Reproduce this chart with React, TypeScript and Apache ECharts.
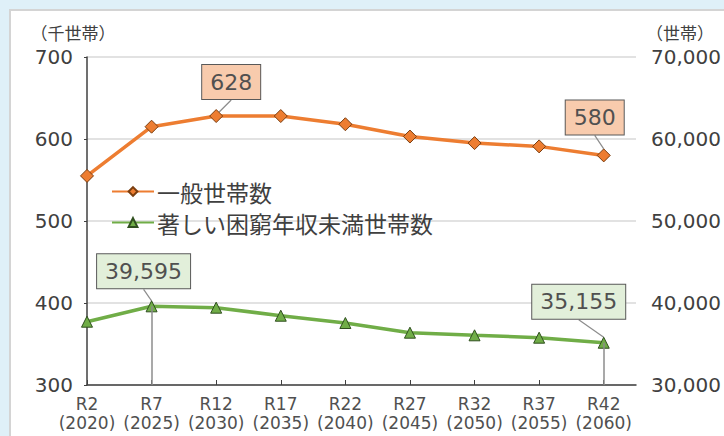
import React, { useEffect, useRef } from "react";
import * as echarts from "echarts";

const categories = [
  "R2\n(2020)", "R7\n(2025)", "R12\n(2030)", "R17\n(2035)", "R22\n(2040)",
  "R27\n(2045)", "R32\n(2050)", "R37\n(2055)", "R42\n(2060)",
];
const generalHouseholds = [555, 615, 628, 628, 618, 603, 595, 591, 580];
const poorHouseholds = [37720, 39595, 39430, 38450, 37560, 36380, 36060, 35770, 35155];
const generalLabelIdx = [2, 8];
const poorLabelIdx = [1, 8];
const leftAxis = { min: 300, max: 700, interval: 100 };
const rightAxis = { min: 30000, max: 70000, interval: 10000 };
const seriesNames = ["一般世帯数", "著しい困窮年収未満世帯数"];
const leftUnit = "（千世帯）";
const rightUnit = "（世帯）";

const NUM_FONT = "DejaVu Sans";
const JP_FONT = "Noto Sans CJK JP";

const labelOffsets: Record<string, [number, number]> = {
  "0-2": [15, -34],
  "0-8": [-9, -38],
  "1-1": [-8, -35],
  "1-8": [-25, -41],
};

export default function App() {
  const ref = useRef<HTMLDivElement>(null);
  useEffect(() => {
    if (!ref.current) return;
    const chart = echarts.init(ref.current, undefined, { renderer: "svg" });
    const idx = categories.map((_, i) => i);

    const mkData = (vals: number[], labelIdx: number[], bg: string) =>
      vals.map((v, i) =>
        labelIdx.includes(i)
          ? {
              value: [i, v],
              label: {
                show: true,
                position: "inside",
                formatter: (p: any) => Number(p.value[1]).toLocaleString("en-US"),
                backgroundColor: bg,
                borderColor: "#595959",
                borderWidth: 1,
                padding: [4, 8],
                fontSize: 22,
                lineHeight: 26,
                color: "#505050",
                fontFamily: NUM_FONT,
              },
              labelLine: { show: true, lineStyle: { color: "#8c8c8c", width: 1.2 } },
            }
          : { value: [i, v] }
      );

    chart.setOption({
      animation: false,
      backgroundColor: "#dff0f8",
      graphic: [
        {
          type: "rect",
          shape: { x: 10, y: 10, width: 730, height: 440 },
          style: { fill: "#ffffff", stroke: "#d4d4d4", lineWidth: 2 },
          z: -10,
        },
        {
          type: "text",
          x: 73,
          y: 32,
          style: {
            text: leftUnit,
            fontSize: 17,
            fontFamily: JP_FONT,
            fill: "#404040",
            align: "center",
            verticalAlign: "middle",
          },
        },
        {
          type: "text",
          x: 680,
          y: 32,
          style: {
            text: rightUnit,
            fontSize: 17,
            fontFamily: JP_FONT,
            fill: "#404040",
            align: "center",
            verticalAlign: "middle",
          },
        },
      ],
      grid: { left: 87, right: 87, top: 57, bottom: 51, containLabel: false },
      legend: {
        orient: "vertical",
        left: 106,
        top: 173,
        itemWidth: 42,
        itemHeight: 11,
        itemGap: 4,
        data: seriesNames,
        textStyle: {
          fontSize: 23,
          lineHeight: 27,
          fontFamily: JP_FONT,
          color: "#404040",
          padding: [0, 0, 0, -2],
        },
      },
      xAxis: {
        type: "value",
        min: 0,
        max: 8.5,
        interval: 1,
        axisLine: { show: true, onZero: false, lineStyle: { color: "#404040", width: 1.5 } },
        axisTick: {
          show: true,
          inside: true,
          length: 5,
          customValues: idx,
          lineStyle: { color: "#404040", width: 1 },
        },
        splitLine: { show: false },
        axisLabel: {
          customValues: idx,
          formatter: (v: number) => categories[Math.round(v)] ?? "",
          fontSize: 17,
          lineHeight: 19,
          margin: 9,
          color: "#505050",
          fontFamily: NUM_FONT,
        },
      },
      yAxis: [
        {
          type: "value",
          ...leftAxis,
          axisLine: { show: true, lineStyle: { color: "#404040", width: 1.5 } },
          axisTick: { show: true, length: 3, lineStyle: { color: "#404040" } },
          splitLine: { show: true, lineStyle: { color: "#d9d9d9", width: 1.5 } },
          axisLabel: {
            fontSize: 20,
            margin: 14,
            color: "#404040",
            fontFamily: NUM_FONT,
          },
        },
        {
          type: "value",
          ...rightAxis,
          position: "right",
          axisLine: { show: false },
          axisTick: { show: false },
          splitLine: { show: false },
          axisLabel: {
            fontSize: 20,
            margin: 15,
            color: "#404040",
            fontFamily: NUM_FONT,
            formatter: (v: number) => v.toLocaleString("en-US"),
          },
        },
      ],
      series: [
        {
          name: seriesNames[0],
          type: "line",
          yAxisIndex: 0,
          data: mkData(generalHouseholds, generalLabelIdx, "#f8cbad"),
          symbol: "diamond",
          symbolSize: 13,
          lineStyle: { color: "#ed7d31", width: 3.5 },
          itemStyle: { color: "#ed7d31", borderColor: "#7a3e10", borderWidth: 1 },
          label: { show: false },
          labelLayout: (p: any) => {
            const o = labelOffsets[`${p.seriesIndex}-${p.dataIndex}`];
            return o ? { dx: o[0], dy: o[1] } : {};
          },
          z: 3,
        },
        {
          name: seriesNames[1],
          type: "line",
          yAxisIndex: 1,
          data: mkData(poorHouseholds, poorLabelIdx, "#e2efda"),
          symbol: "triangle",
          symbolSize: 11,
          lineStyle: { color: "#70ad47", width: 3.5 },
          itemStyle: { color: "#70ad47", borderColor: "#2f4f1e", borderWidth: 1 },
          label: { show: false },
          labelLayout: (p: any) => {
            const o = labelOffsets[`${p.seriesIndex}-${p.dataIndex}`];
            return o ? { dx: o[0], dy: o[1] } : {};
          },
          markLine: {
            silent: true,
            symbol: "none",
            label: { show: false },
            lineStyle: { color: "#8c8c8c", width: 1.5, type: "solid" },
            data: poorLabelIdx.map((i) => [
              { coord: [i, poorHouseholds[i]] },
              { coord: [i, rightAxis.min] },
            ]),
          },
          z: 3,
        },
      ],
    });
    return () => chart.dispose();
  }, []);

  return (
    <div style={{ position: "fixed", left: 0, top: 0, width: 724, height: 436 }}>
      <div ref={ref} style={{ width: 724, height: 436 }} />
    </div>
  );
}
